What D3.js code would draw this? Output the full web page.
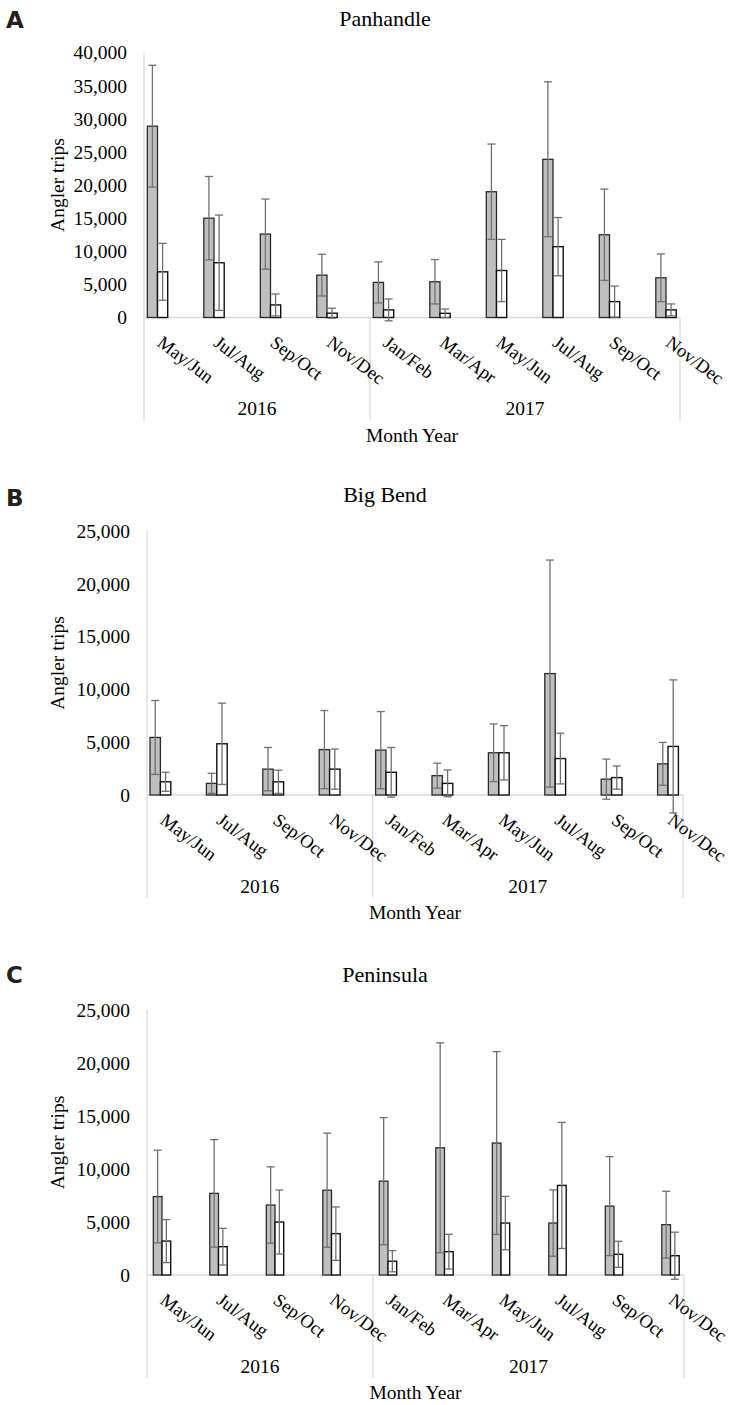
<!DOCTYPE html>
<html>
<head>
<meta charset="utf-8">
<script src="https://cdn.jsdelivr.net/npm/d3@7"></script>
<style>
  html, body { margin: 0; padding: 0; background: #fff; }
  svg { display: block; }
</style>
</head>
<body>
<svg id="chart" width="730" height="1405"></svg>
<script>
// ---------- data ----------
const months = ["May/Jun","Jul/Aug","Sep/Oct","Nov/Dec","Jan/Feb","Mar/Apr","May/Jun","Jul/Aug","Sep/Oct","Nov/Dec"];
const yearLabels = ["2016", "2017"];
const yearCounts = [4, 6];

const panhandleGray     = [28900, 15000, 12600, 6400, 5300, 5400, 19000, 23900, 12500, 6000];
const panhandleGrayErr  = [9200, 6300, 5300, 3150, 3100, 3350, 7200, 11700, 6900, 3600];
const panhandleWhite    = [6900, 8270, 1900, 650, 1150, 630, 7100, 10700, 2400, 1150];
const panhandleWhiteErr = [4300, 7200, 1650, 750, 1650, 650, 4700, 4400, 2350, 900];

const bigBendGray     = [5450, 1100, 2450, 4300, 4250, 1830, 4000, 11500, 1500, 2950];
const bigBendGrayErr  = [3500, 950, 2050, 3700, 3650, 1180, 2730, 10750, 1900, 2030];
const bigBendWhite    = [1250, 4850, 1250, 2450, 2150, 1100, 4000, 3450, 1650, 4600];
const bigBendWhiteErr = [900, 3850, 1100, 1900, 2350, 1270, 2570, 2400, 1100, 6300];

const peninsulaGray     = [7400, 7700, 6600, 8000, 8850, 12000, 12450, 4900, 6500, 4750];
const peninsulaGrayErr  = [4370, 5070, 3600, 5380, 6000, 9900, 8620, 3130, 4670, 3150];
const peninsulaWhite    = [3200, 2670, 5000, 3900, 1300, 2200, 4900, 8450, 1950, 1820];
const peninsulaWhiteErr = [2030, 1730, 3020, 2520, 1000, 1640, 2520, 5950, 1230, 2220];

const yTicksA = [0, 5000, 10000, 15000, 20000, 25000, 30000, 35000, 40000];
const yTicksBC = [0, 5000, 10000, 15000, 20000, 25000];

const titles = ["Panhandle", "Big Bend", "Peninsula"];
const panelLetters = ["A", "B", "C"];
const yLabel = "Angler trips";
const xLabel = "Month Year";

// category keys (year + months)
const yearOfCat = [];
yearLabels.forEach((y, i) => { for (let k = 0; k < yearCounts[i]; k++) yearOfCat.push(y); });
const catKeys = months.map((m, i) => yearOfCat[i] + " " + m);

// ---------- layout ----------
const panels = [
  { title: titles[0], letter: panelLetters[0], gray: panhandleGray, grayErr: panhandleGrayErr, white: panhandleWhite, whiteErr: panhandleWhiteErr,
    ticks: yTicksA, left: 144, right: 680, top: 52.7, base: 317.5, pitch: 56.5, barOff: 3.3, barW: 10.2, titleY: 26, letterY: 28 },
  { title: titles[1], letter: panelLetters[1], gray: bigBendGray, grayErr: bigBendGrayErr, white: bigBendWhite, whiteErr: bigBendWhiteErr,
    ticks: yTicksBC, left: 147, right: 683, top: 531, base: 795, pitch: 56.4, barOff: 3, barW: 10.4, titleY: 502, letterY: 506 },
  { title: titles[2], letter: panelLetters[2], gray: peninsulaGray, grayErr: peninsulaGrayErr, white: peninsulaWhite, whiteErr: peninsulaWhiteErr,
    ticks: yTicksBC, left: 147, right: 684, top: 1010, base: 1275, pitch: 56.5, barOff: 6.3, barW: 8.7, titleY: 982, letterY: 983 }
];

const serif = "'Liberation Serif', 'Times New Roman', serif";
const svg = d3.select("#chart");
svg.append("rect").attr("width", 730).attr("height", 1405).attr("fill", "#fff");

const axisColor = "#d9d9d9";
const errColor = "#707070";

panels.forEach(p => {
  const g = svg.append("g");
  const x = d3.scaleBand().domain(catKeys).range([p.left, p.left + catKeys.length * p.pitch]).padding(0);
  const y = d3.scaleLinear().domain([0, d3.max(p.ticks)]).range([p.base, p.top]);

  // panel letter
  g.append("text").attr("x", 6).attr("y", p.letterY)
    .attr("font-family", "'DejaVu Sans', sans-serif").attr("font-weight", "bold")
    .attr("font-size", 23).attr("fill", "#231f20").text(p.letter);

  // title
  g.append("text").attr("x", 385).attr("y", p.titleY).attr("text-anchor", "middle")
    .attr("font-family", serif).attr("font-size", 22).attr("fill", "#000").text(p.title);

  // y axis (labels only, via d3 axis)
  const yAxis = d3.axisLeft(y).tickValues(p.ticks).tickFormat(d3.format(",")).tickSize(0).tickPadding(17);
  const ya = g.append("g").attr("transform", `translate(${p.left},0)`).call(yAxis)
    .attr("font-family", serif).attr("font-size", 19.5);
  ya.select(".domain").remove();
  ya.selectAll("text").attr("font-family", serif).attr("font-size", 19.5).attr("fill", "#000");

  // y axis title
  g.append("text")
    .attr("transform", `translate(64,${(p.top + p.base) / 2}) rotate(-90)`)
    .attr("text-anchor", "middle").attr("font-family", serif).attr("font-size", 19.5).attr("fill", "#000")
    .text(yLabel);

  const lowBottom = p.base + 103;
  // vertical axis line
  g.append("line").attr("x1", p.left).attr("x2", p.left).attr("y1", p.top).attr("y2", lowBottom)
    .attr("stroke", axisColor).attr("stroke-width", 1.2);
  // baseline
  g.append("line").attr("x1", p.left).attr("x2", p.right).attr("y1", p.base).attr("y2", p.base)
    .attr("stroke", axisColor).attr("stroke-width", 1.5);
  // year separators
  const sepIdx = yearCounts[0];
  const sepX = x(catKeys[sepIdx]);
  g.append("line").attr("x1", sepX).attr("x2", sepX).attr("y1", p.base).attr("y2", lowBottom)
    .attr("stroke", axisColor).attr("stroke-width", 1.2);
  g.append("line").attr("x1", p.right).attr("x2", p.right).attr("y1", p.base).attr("y2", lowBottom)
    .attr("stroke", axisColor).attr("stroke-width", 1.2);

  // bars
  const idx = d3.range(catKeys.length);
  g.selectAll(".gbar").data(idx).enter().append("rect")
    .attr("x", i => x(catKeys[i]) + p.barOff)
    .attr("y", i => y(p.gray[i]))
    .attr("width", p.barW)
    .attr("height", i => y(0) - y(p.gray[i]))
    .attr("fill", "#bfbfbf").attr("stroke", "#2b2b2b").attr("stroke-width", 1.3);
  g.selectAll(".wbar").data(idx).enter().append("rect")
    .attr("x", i => x(catKeys[i]) + p.barOff + p.barW)
    .attr("y", i => y(p.white[i]))
    .attr("width", p.barW)
    .attr("height", i => y(0) - y(p.white[i]))
    .attr("fill", "#fff").attr("stroke", "#111").attr("stroke-width", 1.4);

  // error bars
  function errBars(vals, errs, shift) {
    const eg = g.append("g").attr("stroke", errColor).attr("stroke-width", 1.3).attr("fill", "none");
    idx.forEach(i => {
      const cx = x(catKeys[i]) + p.barOff + shift + p.barW / 2;
      const hi = y(vals[i] + errs[i]);
      const lo = y(vals[i] - errs[i]);
      eg.append("line").attr("x1", cx).attr("x2", cx).attr("y1", hi).attr("y2", lo);
      eg.append("line").attr("x1", cx - 4).attr("x2", cx + 4).attr("y1", hi).attr("y2", hi);
      eg.append("line").attr("x1", cx - 4).attr("x2", cx + 4).attr("y1", lo).attr("y2", lo);
    });
  }
  errBars(p.gray, p.grayErr, 0);
  errBars(p.white, p.whiteErr, p.barW);

  // month labels (rotated)
  g.selectAll(".mlab").data(idx).enter().append("text")
    .attr("transform", i => `translate(${x(catKeys[i]) + 12},${p.base + 27.5}) rotate(37)`)
    .attr("font-family", serif).attr("font-size", 18.5).attr("fill", "#000")
    .text(i => months[i]);

  // year labels
  let start = 0;
  yearLabels.forEach((yl, k) => {
    const x0 = x(catKeys[start]);
    const x1 = (k === yearLabels.length - 1) ? p.right : x(catKeys[start + yearCounts[k]]);
    g.append("text").attr("x", (x0 + x1) / 2).attr("y", p.base + 97.5).attr("text-anchor", "middle")
      .attr("font-family", serif).attr("font-size", 19.5).attr("fill", "#000").text(yl);
    start += yearCounts[k];
  });

  // x axis title
  g.append("text").attr("x", (p.left + p.right) / 2).attr("y", p.base + 124).attr("text-anchor", "middle")
    .attr("font-family", serif).attr("font-size", 19.5).attr("fill", "#000").text(xLabel);
});
</script>
</body>
</html>
